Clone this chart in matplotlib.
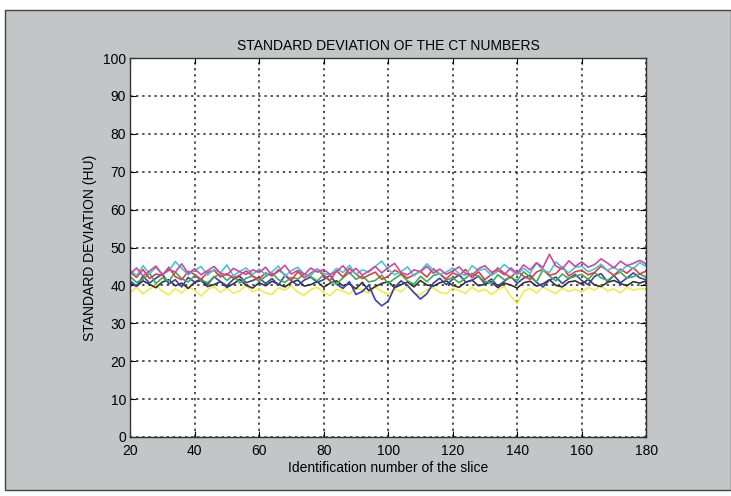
import numpy as np
import matplotlib
matplotlib.use("Agg")
import matplotlib.pyplot as plt
from matplotlib.patches import Rectangle

plt.rcParams['font.family'] = ['Liberation Sans', 'DejaVu Sans']

# slice numbers 20..180, every second slice
slices = list(range(20, 181, 2))

sd_yellow = [38.2, 39.5, 37.8, 39.0, 40.1, 38.4, 37.5, 39.2, 38.0, 39.6,
             38.8, 37.2, 38.9, 39.7, 38.1, 39.3, 37.9, 38.6, 40.0, 38.3,
             39.1, 38.0, 37.6, 39.4, 38.7, 39.9, 38.2, 37.4, 38.9, 39.5,
             38.1, 37.3, 39.0, 38.5, 37.7, 39.2, 38.8, 37.9, 39.6, 38.4,
             37.6, 39.1, 38.3, 39.8, 38.0, 37.5, 38.9, 39.4, 38.2, 37.8,
             39.3, 38.6, 37.9, 39.5, 38.4, 39.0, 37.6, 38.8, 39.7, 37.2,
             35.2, 38.5, 39.2, 38.0, 39.6, 38.7, 37.8, 39.3, 38.4, 39.0,
             38.2, 39.4, 38.8, 39.9, 38.5, 39.1, 38.0, 39.5, 38.7, 39.2,
             38.9]
sd_black = [40.5, 39.8, 41.2, 40.3, 39.4, 40.9, 41.5, 39.9, 40.6, 39.2,
            40.8, 41.3, 39.7, 40.2, 41.0, 39.5, 40.4, 41.6, 40.0, 39.3,
            40.7, 39.9, 41.1, 40.3, 39.6, 40.8, 41.4, 39.8, 40.2, 41.0,
            39.5, 40.6, 41.2, 39.9, 40.4, 39.1, 40.8, 38.6, 39.7, 40.5,
            41.0, 39.4, 40.2, 40.9, 39.6, 41.3, 40.1, 39.8, 40.7, 41.2,
            40.0, 39.5, 40.8, 41.4, 39.9, 40.3, 41.0, 39.4, 40.6, 40.1,
            39.3, 40.7, 41.1, 39.8, 40.4, 41.5, 40.0, 39.6, 40.9, 41.2,
            40.3, 41.6, 40.1, 39.7, 40.8, 41.3, 40.5, 39.9, 41.0, 40.6,
            41.2]
sd_blue = [41.2, 39.8, 42.5, 40.6, 41.9, 43.0, 40.4, 41.5, 39.6, 42.1,
           40.9, 41.7, 40.2, 42.3, 41.0, 39.9, 41.6, 42.4, 40.7, 41.3,
           42.0, 40.5, 41.8, 40.1, 42.6, 41.2, 40.0, 41.4, 42.2, 40.8,
           41.5, 42.7, 40.3, 39.2, 41.0, 37.6, 38.4, 40.1, 36.2, 34.6,
           35.8, 39.5, 41.2, 40.0, 38.1, 36.4, 37.8, 40.6, 41.9, 40.2,
           41.6, 42.8, 40.9, 41.3, 42.5, 40.4, 41.7, 39.8, 41.1, 42.3,
           40.6, 41.9, 42.7, 40.8, 39.6, 41.4, 42.2, 40.5, 41.8, 42.9,
           41.3, 40.2, 42.4, 43.1, 41.0, 42.6, 40.7, 41.9, 43.3, 42.0,
           41.5]
sd_green = [42.3, 40.8, 41.6, 43.2, 40.5, 42.0, 41.1, 43.5, 41.8, 40.9,
            42.6, 41.4, 40.7, 42.2, 43.0, 41.3, 42.7, 40.6, 41.9, 42.5,
            41.0, 42.4, 43.3, 41.5, 40.8, 42.1, 41.7, 43.0, 42.3, 41.2,
            42.8, 41.1, 40.4, 42.0, 43.4, 41.6, 42.5, 40.9, 41.3, 42.7,
            40.5, 41.8, 42.9, 41.2, 40.3, 42.4, 41.0, 42.6, 43.1, 41.4,
            42.0, 40.7, 41.9, 43.2, 42.3, 41.1, 40.6, 42.8, 41.5, 42.1,
            41.3, 43.6, 42.2, 40.9, 44.1, 42.5, 41.2, 43.0, 41.8, 42.4,
            42.9, 41.6, 43.4, 42.0, 41.3, 42.7, 43.5, 41.9, 42.3, 43.0,
            42.2]
sd_red = [43.5, 42.1, 44.2, 41.8, 43.0, 42.6, 44.8, 42.3, 41.5, 43.7,
          42.9, 41.6, 43.4, 44.0, 42.2, 43.1, 41.9, 42.7, 43.8, 42.4,
          41.7, 43.3, 42.5, 44.1, 42.8, 41.4, 43.6, 42.0, 43.2, 44.3,
          42.6, 41.3, 43.9, 42.2, 44.5, 43.0, 41.8, 42.7, 43.5, 41.6,
          42.4, 44.0, 43.1, 41.9, 42.8, 43.7, 42.2, 44.4, 43.0, 41.7,
          43.3, 42.6, 44.2, 42.0, 43.6, 41.5, 42.9, 44.6, 43.2, 42.1,
          43.8, 42.4, 41.6, 43.5, 44.3, 42.7, 43.1, 44.9, 42.5, 43.6,
          44.0, 42.8, 43.4, 45.1, 43.9, 42.6, 44.3, 43.2, 44.7, 43.0,
          43.8]
sd_cyan = [44.0, 42.6, 45.2, 43.1, 44.7, 42.9, 43.8, 46.3, 44.5, 42.8,
           43.9, 45.0, 42.7, 44.2, 43.3, 45.4, 42.5, 43.7, 44.6, 42.9,
           44.3, 42.8, 43.6, 45.1, 42.4, 43.9, 44.8, 43.0, 42.6, 44.4,
           43.2, 42.7, 44.5, 43.4, 45.3, 42.9, 44.1, 43.5, 45.0, 46.4,
           44.2, 42.8, 43.6, 44.9, 42.5, 43.8, 45.7, 44.0, 42.9, 43.5,
           44.6, 43.1, 42.7, 45.2, 43.9, 44.4, 42.6, 43.7, 45.5, 44.1,
           42.8, 44.5, 43.2, 45.9, 44.0, 43.4, 46.2, 44.7, 43.3, 44.8,
           45.1, 43.6, 44.3, 45.6, 43.9, 44.9, 43.5, 45.3, 44.4, 46.0,
           45.0]
sd_magenta = [43.0, 44.6, 42.5, 43.8, 45.1, 42.9, 44.2, 43.5, 45.7, 43.1,
              44.4, 42.8, 43.9, 45.0, 43.3, 42.7, 44.5, 43.6, 42.9, 44.1,
              43.4, 44.8, 42.6, 43.7, 45.3, 43.0, 44.0, 42.8, 44.6, 43.5,
              44.2, 42.9, 43.6, 45.2, 43.1, 44.5, 42.7, 43.8, 45.0, 43.3,
              44.7, 45.8, 43.4, 42.8, 44.1, 43.6, 45.0, 43.2, 44.3, 42.9,
              43.8, 44.9, 43.1, 42.6, 44.4, 45.2, 43.5, 44.0, 42.8, 44.6,
              43.2, 45.4, 44.1, 46.0, 44.7, 48.2, 45.1, 44.3, 46.5, 45.0,
              46.2, 44.8, 45.5, 47.0, 45.9, 44.6, 46.4, 45.2, 45.8, 46.6,
              45.7]

series = [
    (sd_yellow, '#eded4a'),
    (sd_black, '#333333'),
    (sd_blue, '#3c3fb0'),
    (sd_green, '#3aae52'),
    (sd_red, '#de4040'),
    (sd_cyan, '#45c6d6'),
    (sd_magenta, '#cf45a8'),
]

fig = plt.figure(figsize=(7.31, 4.96), dpi=100, facecolor='white')

# gray panel with dark outline, like the exported matlab figure
bg = fig.add_axes([0, 0, 1, 1], zorder=-10)
bg.set_axis_off()
bg.add_patch(Rectangle((0.007, 0.012), 0.993, 0.968, transform=bg.transAxes,
                       facecolor='#c3c5c7', edgecolor='#444444', lw=1.0))

ax = fig.add_axes([0.178, 0.119, 0.706, 0.764])
ax.set_facecolor('white')

for vals, col in series:
    ax.plot(slices, vals, color=col, lw=1.2)

ax.set_xlim(20, 180)
ax.set_ylim(0, 100)
ax.set_xticks(range(20, 181, 20))
ax.set_yticks(range(0, 101, 10))
ax.grid(True, color='#222222', linestyle=(0, (1.5, 2.5)), lw=1.1)
ax.tick_params(direction='in', top=True, right=True, length=4, labelsize=10)
ax.tick_params(axis='x', pad=5)
ax.tick_params(axis='y', pad=3)
for s in ax.spines.values():
    s.set_color('#333333')
    s.set_linewidth(1.0)

ax.set_title('STANDARD DEVIATION OF THE CT NUMBERS', fontsize=10, pad=6)
ax.set_xlabel('Identification number of the slice', fontsize=10, labelpad=2)
ax.set_ylabel('STANDARD DEVIATION (HU)', fontsize=10, labelpad=4)

fig.savefig('out.png', dpi=100, facecolor=fig.get_facecolor())
